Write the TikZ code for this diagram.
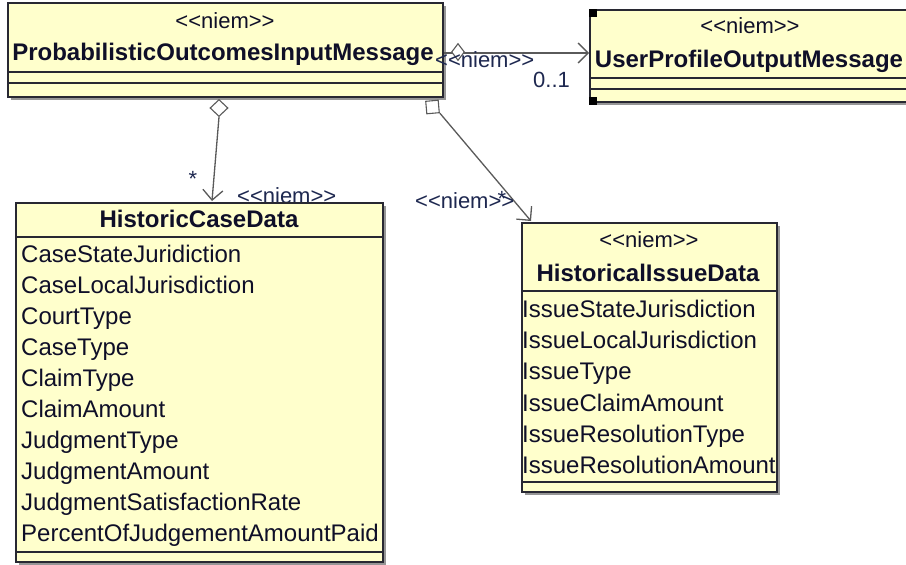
\documentclass[tikz,border=0pt]{standalone}
\usepackage{fontspec}
\setmainfont{Liberation Sans}
\usetikzlibrary{shapes.geometric,arrows.meta}
\definecolor{clsfill}{RGB}{255,255,204}
\definecolor{clsline}{RGB}{40,40,50}
\definecolor{connc}{RGB}{90,90,90}
\definecolor{txtc}{RGB}{15,15,40}
\definecolor{lblc}{RGB}{30,40,80}
\definecolor{shadc}{RGB}{150,150,150}
\newcommand\niemst{<\kern0pt<niem>\kern0pt>}
\begin{document}
\begin{tikzpicture}[x=1pt,y=-1pt,
 cls/.style={draw=clsline,line width=1.8pt,fill=clsfill,inner sep=0pt,outer sep=0pt,anchor=north west},
 shad/.style={fill=shadc},
 sep/.style={draw=clsline,line width=1.4pt},
 stereo/.style={font=\fontsize{22}{26}\selectfont,text=txtc,inner sep=0pt,anchor=base},
 cname/.style={font=\bfseries\fontsize{24}{29}\selectfont,text=txtc,inner sep=0pt,anchor=base},
 attr/.style={font=\fontsize{24}{29}\selectfont,text=txtc,inner sep=0pt,anchor=base west},
 conn/.style={draw=connc,line width=1.3pt},
 openarrow/.style={-{Straight Barb[length=10pt,width=20pt,line width=1.3pt]}},
 lbl/.style={font=\fontsize{22}{26}\selectfont,text=lblc,inner sep=0pt,anchor=base west},
 handle/.style={fill=black},
 endmark/.style={draw=connc,fill=white,line width=1.1pt,inner sep=0pt}
]
\useasboundingbox (0,0) rectangle (906,565);
\fill[white] (0,0) rectangle (906,565);

% ---- ProbabilisticOutcomesInputMessage
\fill[shad] (11,6) rectangle (446,100);
\node[cls,minimum width=435pt,minimum height=94pt] (pom) at (8,3) {};
\draw[sep] (8,72) -- (443,72);
\draw[sep] (8,83) -- (443,83);
\node[stereo] (pomst) at (225,28) {\niemst};
\node[cname] (pomnm) at (223,60) {ProbabilisticOutcomesInputMessage};

% ---- UserProfileOutputMessage
\fill[shad] (593,13) rectangle (915,105);
\node[cls,minimum width=322pt,minimum height=92pt] (upo) at (590,10) {};
\draw[sep] (590,78) -- (912,78);
\draw[sep] (590,89) -- (912,89);
\node[stereo] (upost) at (750,33) {\niemst};
\node[cname] (uponm) at (749,67) {UserProfileOutputMessage};
\fill[handle] (589,9) rectangle (597,17);
\fill[handle] (589,97) rectangle (597,105);

% ---- HistoricalIssueData
\fill[shad] (525,226) rectangle (780,495);
\node[cls,minimum width=255pt,minimum height=269pt] (hid) at (522,223) {};
\draw[sep] (522,291) -- (777,291);
\draw[sep] (522,482) -- (777,482);
\node[stereo] (hidst) at (649,247) {\niemst};
\node[cname] (hidnm) at (648,281) {HistoricalIssueData};
\node[attr] (i1) at (522,317) {IssueStateJurisdiction};
\node[attr] (i2) at (522,348) {IssueLocalJurisdiction};
\node[attr] (i3) at (522,379) {IssueType};
\node[attr] (i4) at (522,411) {IssueClaimAmount};
\node[attr] (i5) at (522,442) {IssueResolutionType};
\node[attr] (i6) at (522,473) {IssueResolutionAmount};

% ---- connector to UserProfileOutputMessage
\coordinate (a1) at (444,53);
\coordinate (b1) at (589,53);
\draw[conn,openarrow] (a1) -- (b1);
\node[endmark,diamond,minimum width=13pt,minimum height=17pt] (d2) at (458,52) {};
\node[lbl] (l1) at (435,67) {\niemst};
\node[lbl] (m1) at (533,87) {0..1};

% ---- connector to HistoricCaseData
\node[endmark,diamond,minimum width=18pt,minimum height=17pt] (d1) at (219,108) {};
\coordinate (t2) at (212,201);
\draw[conn,openarrow] (d1.south) -- (t2);
\node[lbl] (l2) at (237,203) {\niemst};
\node[lbl,anchor=base] (m2) at (193,186) {*};

% ---- connector to HistoricalIssueData
\node[endmark,minimum size=12.5pt,rotate=5] (s1) at (432.5,107) {};
\coordinate (t3) at (531,221);
\draw[conn,openarrow] (s1.south east) -- (t3);
\node[lbl] (l3) at (415,208) {\niemst};
\node[lbl,anchor=base] (m3) at (502,206) {*};

% ---- HistoricCaseData
\fill[shad] (19,206) rectangle (386,565);
\node[cls,minimum width=367pt,minimum height=359pt] (hcd) at (16,203) {};
\draw[sep] (16,237) -- (383,237);
\draw[sep] (16,552) -- (383,552);
\node[cname] (hcdnm) at (199,227) {HistoricCaseData};
\node[attr] (c1) at (21,262) {CaseStateJuridiction};
\node[attr] (c2) at (21,293) {CaseLocalJurisdiction};
\node[attr] (c3) at (21,324) {CourtType};
\node[attr] (c4) at (21,355) {CaseType};
\node[attr] (c5) at (21,386) {ClaimType};
\node[attr] (c6) at (21,417) {ClaimAmount};
\node[attr] (c7) at (21,448) {JudgmentType};
\node[attr] (c8) at (21,479) {JudgmentAmount};
\node[attr] (c9) at (21,510) {JudgmentSatisfactionRate};
\node[attr] (c10) at (21,541) {PercentOfJudgementAmountPaid};
\end{tikzpicture}
\end{document}
